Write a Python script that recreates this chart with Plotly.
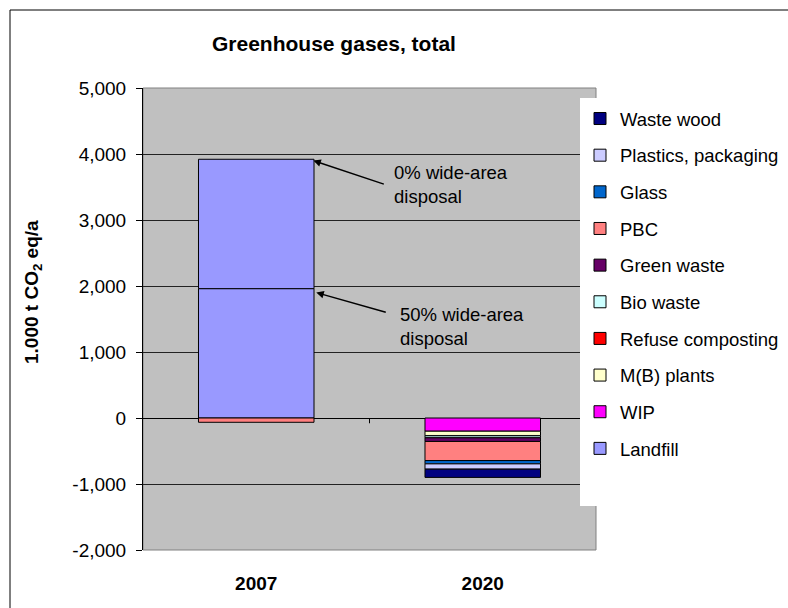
import plotly.graph_objects as go

years = ["2007", "2020"]

series_names = ["Landfill", "WIP", "M(B) plants", "Refuse composting", "Bio waste",
                "Green waste", "PBC", "Glass", "Plastics, packaging", "Waste wood"]
landfill = [1960, None]
landfill_0pct_extra = [1960, None]
wip = [None, -200]
mb_plants = [None, -65]
refuse_composting = [None, -5]
bio_waste = [None, -30]
green_waste = [None, -55]
pbc = [-65, -290]
glass = [None, -50]
plastics = [None, -80]
waste_wood = [None, -125]

tick_vals = [5000, 4000, 3000, 2000, 1000, 0, -1000, -2000]
tick_text = ["5,000", "4,000", "3,000", "2,000", "1,000", "0", "-1,000", "-2,000"]

colors = {
    "Landfill": "#9999FF", "WIP": "#FF00FF", "M(B) plants": "#FFFFCC",
    "Refuse composting": "#FF0000", "Bio waste": "#CCFFFF", "Green waste": "#660066",
    "PBC": "#FF8080", "Glass": "#0066CC", "Plastics, packaging": "#CCCCFF",
    "Waste wood": "#000080",
}

values = [landfill, wip, mb_plants, refuse_composting, bio_waste,
          green_waste, pbc, glass, plastics, waste_wood]

FONT = "Liberation Sans, Arial, sans-serif"
fig = go.Figure()
for i, (name, vals) in enumerate(zip(series_names, values)):
    fig.add_trace(go.Bar(x=years, y=vals, name=name, legendgroup=name,
                         legendrank=1000 - i,
                         marker=dict(color=colors[name], line=dict(color="black", width=1)),
                         width=0.51))
    if name == "Landfill":
        fig.add_trace(go.Bar(x=years, y=landfill_0pct_extra, name="Landfill",
                             legendgroup="Landfill", showlegend=False, legendrank=1000 - i,
                             marker=dict(color=colors[name], line=dict(color="black", width=1)),
                             width=0.51))

W, H = 788, 608
L, R, T, B = 143, 596, 88, 550
pw, ph = R - L, B - T
def px(x): return (x - L) / pw
def py(y): return (B - y) / ph

fig.update_layout(
    width=W, height=H, barmode="relative",
    margin=dict(l=L, r=W - R, t=T, b=H - B, autoexpand=False),
    paper_bgcolor="white", plot_bgcolor="#C0C0C0",
    font=dict(family=FONT, color="black", size=19),
    showlegend=True,
    legend=dict(x=px(580), y=py(100), xanchor="left", yanchor="top",
                traceorder="grouped", tracegroupgap=9.6,
                bgcolor="rgba(0,0,0,0)", font=dict(size=18.5, family=FONT, color="black"),
                itemwidth=30),
    xaxis=dict(showgrid=False, showline=False, ticks="", automargin=False,
               tickfont=dict(size=19, family="Liberation Sans, Arial", color="black", weight="bold"),
               ticklabelstandoff=20),
    yaxis=dict(range=[-2000, 5000], tickvals=tick_vals, ticktext=tick_text,
               showgrid=True, gridcolor="#222222", gridwidth=1,
               zeroline=True, zerolinecolor="black", zerolinewidth=1,
               showline=True, linecolor="black", linewidth=1,
               ticks="outside", ticklen=6, tickcolor="black", ticklabelstandoff=6,
               tickfont=dict(size=19, family=FONT, color="black"), automargin=False),
    shapes=[
        dict(type="rect", xref="paper", yref="paper", x0=0, x1=1, y0=0, y1=1,
             line=dict(color="#808080", width=1), layer="below"),
        dict(type="rect", xref="paper", yref="paper", x0=px(580), x1=px(800),
             y0=py(506), y1=py(98), fillcolor="white", line=dict(width=0), layer="above"),
        dict(type="line", xref="x", yref="y", x0=0.5, x1=0.5, y0=0, y1=-80,
             line=dict(color="black", width=1)),
        dict(type="rect", xref="paper", yref="paper", x0=px(10), x1=px(900),
             y0=py(700), y1=py(10), line=dict(color="black", width=1)),
    ],
    annotations=[
        dict(text="<b>Greenhouse gases, total</b>", xref="paper", yref="paper",
             x=px(334), y=py(43), xanchor="center", yanchor="middle", showarrow=False,
             font=dict(size=21, family=FONT, color="black")),
        dict(text="<b>1.000 t CO<sub>2</sub> eq/a</b>", xref="paper", yref="paper",
             x=px(33), y=py(292), xanchor="center", yanchor="middle", showarrow=False,
             textangle=-90, font=dict(size=19, family=FONT, color="black")),
        dict(text="0% wide-area<br>disposal", xref="paper", yref="paper",
             x=px(392), y=py(184), xanchor="left", yanchor="middle", align="left",
             showarrow=False, font=dict(size=18.5, family=FONT, color="black")),
        dict(text="50% wide-area<br>disposal", xref="paper", yref="paper",
             x=px(398), y=py(326), xanchor="left", yanchor="middle", align="left",
             showarrow=False, font=dict(size=18.5, family=FONT, color="black")),
        dict(text="", xref="x", yref="y", x=0.252, y=3900, ax=72, ay=24,
             showarrow=True, arrowhead=2, arrowsize=1, arrowwidth=1.5, arrowcolor="black"),
        dict(text="", xref="x", yref="y", x=0.265, y=1900, ax=71, ay=20,
             showarrow=True, arrowhead=2, arrowsize=1, arrowwidth=1.5, arrowcolor="black"),
    ],
)

fig.write_html("out.html", config={"displayModeBar": False},
               post_script="document.body.style.margin='0';document.body.style.overflow='hidden';")
